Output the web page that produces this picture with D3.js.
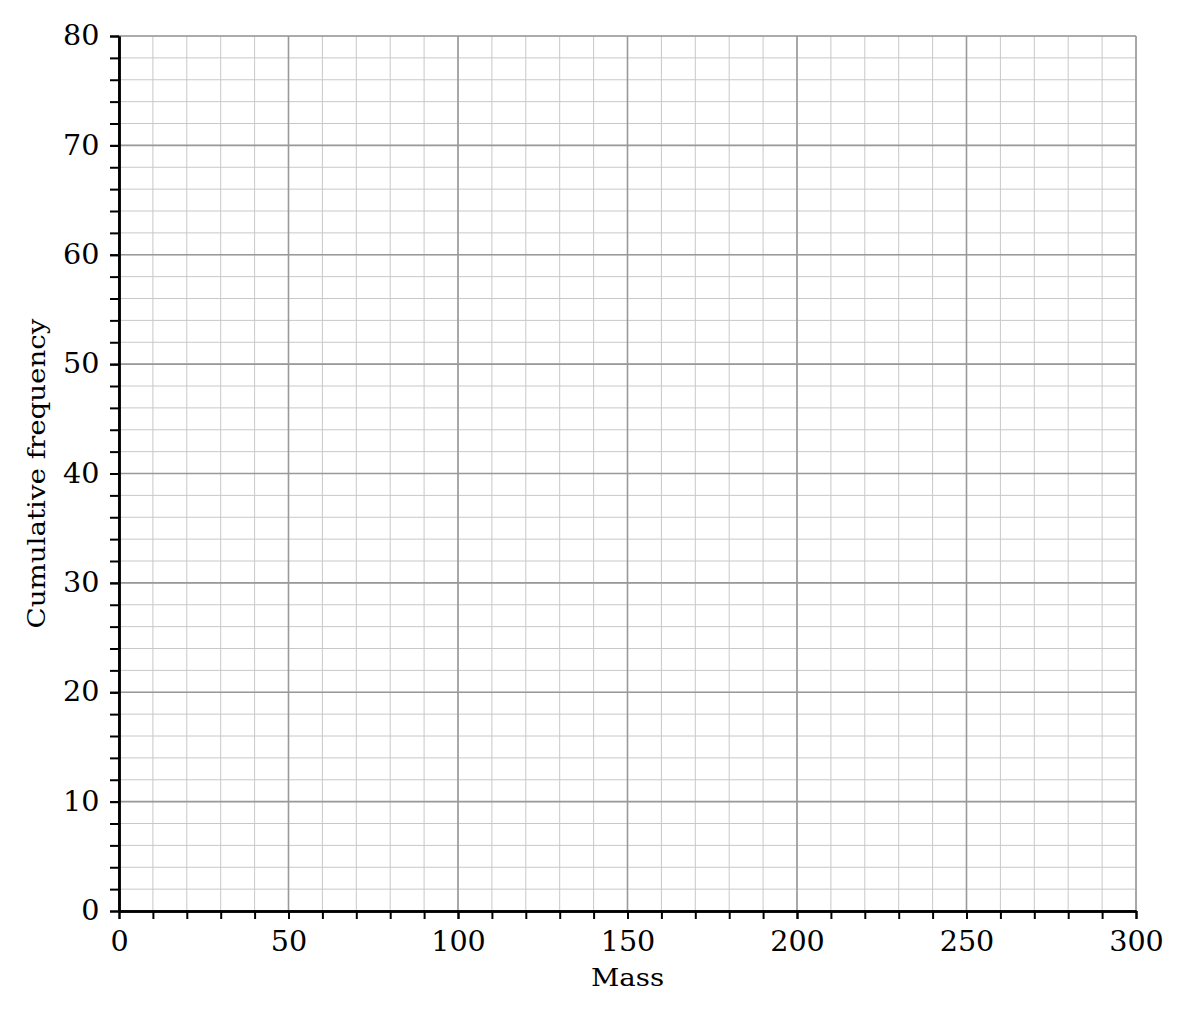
<!DOCTYPE html>
<html>
<head>
<meta charset="utf-8">
<script src="https://cdn.jsdelivr.net/npm/d3@7"></script>
<style>
  body { margin: 0; background: #fff; }
  text { font-family: "DejaVu Serif", serif; fill: #000; }
</style>
</head>
<body>
<div id="chart"></div>
<script>
/* axis ranges and tick values */
const xDomain = [0, 300];
const yDomain = [0, 80];
const xMajor = [0, 50, 100, 150, 200, 250, 300];
const yMajor = [0, 10, 20, 30, 40, 50, 60, 70, 80];
const xMinor = d3.range(0, 301, 10);
const yMinor = d3.range(0, 81, 2);
const xTitle = "Mass";
const yTitle = "Cumulative frequency";

const margin = { top: 36, right: 54, bottom: 109, left: 119 },
      width = 1190 - margin.left - margin.right,
      height = 1020 - margin.top - margin.bottom;

/* the glyphs in the original are a bit wider than plain DejaVu Serif */
const tickStretch = 1.06, titleStretch = 1.13;

const svg = d3.select("#chart").append("svg")
    .attr("width", 1190).attr("height", 1020)
  .append("g")
    .attr("transform", `translate(${margin.left}, ${margin.top})`);

const x = d3.scaleLinear().domain(xDomain).range([0, width]);
const y = d3.scaleLinear().domain(yDomain).range([height, 0]);

// minor grid
svg.append("g").selectAll("line").data(xMinor).enter().append("line")
    .attr("x1", d => x(d)).attr("x2", d => x(d)).attr("y1", 0).attr("y2", height)
    .attr("stroke", "#c8c8c8").attr("stroke-width", 1);
svg.append("g").selectAll("line").data(yMinor).enter().append("line")
    .attr("y1", d => y(d)).attr("y2", d => y(d)).attr("x1", 0).attr("x2", width)
    .attr("stroke", "#c8c8c8").attr("stroke-width", 1);

// major grid
svg.append("g").selectAll("line").data(xMajor).enter().append("line")
    .attr("x1", d => x(d)).attr("x2", d => x(d)).attr("y1", 0).attr("y2", height)
    .attr("stroke", "#999").attr("stroke-width", 1.6);
svg.append("g").selectAll("line").data(yMajor).enter().append("line")
    .attr("y1", d => y(d)).attr("y2", d => y(d)).attr("x1", 0).attr("x2", width)
    .attr("stroke", "#999").attr("stroke-width", 1.6);

// axes: minor ticks without labels, then major ticks with labels
const styleAxis = g => {
  g.select(".domain").attr("stroke", "#000").attr("stroke-width", 2.5);
  g.selectAll(".tick line").attr("stroke", "#000").attr("stroke-width", 2);
};

svg.append("g").attr("transform", `translate(0, ${height})`)
    .call(d3.axisBottom(x).tickValues(xMinor).tickFormat("").tickSize(8).tickSizeOuter(0))
    .call(styleAxis);
svg.append("g").attr("transform", `translate(0, ${height})`)
    .call(d3.axisBottom(x).tickValues(xMajor).tickSize(8).tickSizeOuter(0).tickPadding(13))
    .call(styleAxis)
    .call(g => g.selectAll("text")
        .style("font-size", "27px").style("font-family", "DejaVu Serif")
        .attr("transform", `scale(${tickStretch},1)`));

svg.append("g")
    .call(d3.axisLeft(y).tickValues(yMinor).tickFormat("").tickSize(9).tickSizeOuter(0))
    .call(styleAxis);
svg.append("g")
    .call(d3.axisLeft(y).tickValues(yMajor).tickSize(9).tickSizeOuter(0))
    .call(styleAxis)
    .call(g => g.selectAll("text")
        .style("font-size", "27px").style("font-family", "DejaVu Serif")
        .attr("x", -19.5 / tickStretch)
        .attr("transform", `scale(${tickStretch},1)`));

// axis titles
svg.append("text")
    .attr("transform", `translate(${width / 2}, ${height + 75}) scale(${titleStretch},1)`)
    .attr("text-anchor", "middle").style("font-size", "24.5px")
    .text(xTitle);
svg.append("text")
    .attr("transform", `translate(-74, ${height / 2}) rotate(-90) scale(${titleStretch},1)`)
    .attr("text-anchor", "middle").style("font-size", "24.5px")
    .text(yTitle);
</script>
</body>
</html>
